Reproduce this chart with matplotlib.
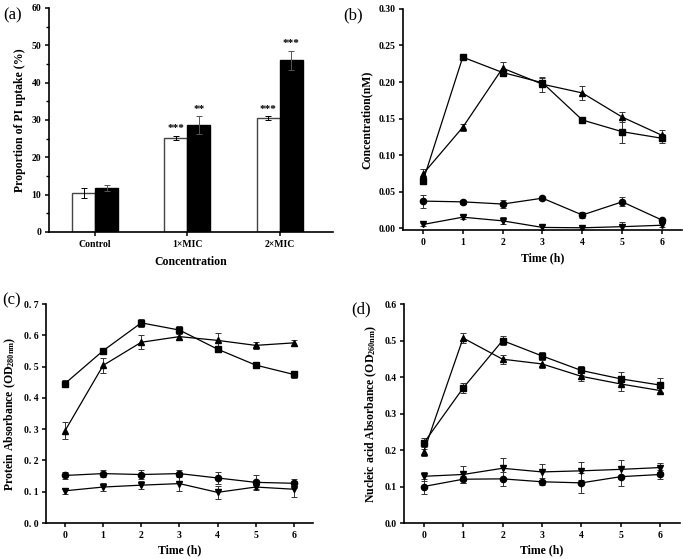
import matplotlib
matplotlib.use("Agg")
import matplotlib.pyplot as plt
import numpy as np

plt.rcParams['font.family'] = ['Liberation Serif', 'DejaVu Serif']
plt.rcParams['font.weight'] = 'bold'
plt.rcParams['axes.labelweight'] = 'bold'
plt.rcParams['mathtext.fontset'] = 'custom'
plt.rcParams['mathtext.rm'] = 'Liberation Serif:bold'
plt.rcParams['mathtext.bf'] = 'Liberation Serif:bold'
plt.rcParams['mathtext.default'] = 'bf'

# (a) PI uptake
categorias = ['Control', '1×MIC', '2×MIC']
biale = [10.4, 25.2, 30.5]
biale_err = [1.3, 0.6, 0.6]
czarne = [11.8, 28.6, 46.0]
czarne_err = [0.9, 2.4, 2.6]
gwiazdki_biale = ['', '***', '***']
gwiazdki_czarne = ['', '**', '***']

# time axis for b, c, d
czas = [0, 1, 2, 3, 4, 5, 6]

# (b) concentration
b_kw = [0.064, 0.234, 0.213, 0.199, 0.148, 0.132, 0.123]
b_kw_err = [0.004, 0.002, 0.004, 0.006, 0.003, 0.016, 0.006]
b_tr = [0.074, 0.138, 0.219, 0.197, 0.185, 0.152, 0.127]
b_tr_err = [0.007, 0.005, 0.009, 0.010, 0.009, 0.007, 0.007]
b_ko = [0.037, 0.036, 0.033, 0.041, 0.018, 0.036, 0.011]
b_ko_err = [0.009, 0.003, 0.005, 0.002, 0.004, 0.006, 0.002]
b_od = [0.005, 0.015, 0.010, 0.001, 0.0005, 0.002, 0.004]
b_od_err = [0.002, 0.003, 0.005, 0.003, 0.001, 0.006, 0.003]

# (c) protein absorbance
c_kw = [0.446, 0.551, 0.640, 0.617, 0.556, 0.505, 0.475]
c_kw_err = [0.010, 0.010, 0.012, 0.012, 0.010, 0.010, 0.010]
c_tr = [0.295, 0.504, 0.578, 0.596, 0.584, 0.568, 0.576]
c_tr_err = [0.027, 0.025, 0.022, 0.012, 0.022, 0.010, 0.010]
c_ko = [0.152, 0.158, 0.155, 0.158, 0.144, 0.130, 0.127]
c_ko_err = [0.010, 0.012, 0.014, 0.012, 0.020, 0.022, 0.015]
c_od = [0.103, 0.115, 0.121, 0.126, 0.098, 0.115, 0.108]
c_od_err = [0.010, 0.012, 0.012, 0.025, 0.020, 0.010, 0.025]

# (d) nucleic acid absorbance
d_kw = [0.219, 0.370, 0.500, 0.458, 0.418, 0.395, 0.378]
d_kw_err = [0.015, 0.015, 0.012, 0.012, 0.013, 0.018, 0.020]
d_tr = [0.195, 0.507, 0.449, 0.436, 0.402, 0.381, 0.363]
d_tr_err = [0.012, 0.013, 0.012, 0.012, 0.014, 0.018, 0.008]
d_od = [0.128, 0.133, 0.150, 0.140, 0.143, 0.147, 0.152]
d_od_err = [0.012, 0.022, 0.027, 0.022, 0.024, 0.025, 0.012]
d_ko = [0.100, 0.120, 0.121, 0.113, 0.110, 0.127, 0.133]
d_ko_err = [0.020, 0.010, 0.020, 0.010, 0.027, 0.025, 0.012]


def styl(ax):
    ax.spines['top'].set_visible(False)
    ax.spines['right'].set_visible(False)
    for s in ['left', 'bottom']:
        ax.spines[s].set_linewidth(1.2)
    ax.tick_params(direction='out', width=1.1, length=3, labelsize=7, pad=2.5)


def seria(ax, y, err, marker):
    ax.errorbar(czas, y, yerr=err, color='black', marker=marker, markersize=4.5,
                linewidth=0.9, elinewidth=0.7, capsize=2, capthick=0.7, ecolor='#333333')


fig = plt.figure(figsize=(6.83, 5.59), dpi=100)

# ---- (a)
ax = fig.add_axes([0.0717, 0.585, 0.416, 0.4007])
x = np.arange(len(categorias))
w = 0.25
ax.bar(x - w/2, biale, w, yerr=biale_err, color='white', edgecolor='#444444', linewidth=1.0,
       error_kw=dict(elinewidth=0.7, capsize=2, capthick=0.7))
ax.bar(x + w/2, czarne, w, yerr=czarne_err, color='black', edgecolor='black', linewidth=1.0,
       error_kw=dict(elinewidth=0.7, capsize=2, capthick=0.7, ecolor='#555555'))
for i in range(len(categorias)):
    if gwiazdki_biale[i]:
        ax.text(x[i] - w/2, biale[i] + biale_err[i] + 0.6, gwiazdki_biale[i], ha='center', va='bottom', fontsize=8)
    if gwiazdki_czarne[i]:
        ax.text(x[i] + w/2, czarne[i] + czarne_err[i] + 0.6, gwiazdki_czarne[i], ha='center', va='bottom', fontsize=8)
styl(ax)
ax.set_xlim(-0.5, 2.58)
ax.set_ylim(0, 60)
ax.set_yticks(range(0, 61, 10))
ax.set_yticks(range(5, 60, 10), minor=True)
ax.tick_params(which='minor', direction='out', width=1.0, length=2)
ax.set_xticks(x)
ax.set_xticklabels(categorias, fontsize=7)
ax.set_xlabel('Concentration', fontsize=8.5, labelpad=5)
ax.set_ylabel('Proportion of PI uptake (%)', fontsize=8.5, labelpad=4)
fig.text(0.005, 0.965, '(a)', fontsize=12, weight='normal')

# ---- (b)
ax = fig.add_axes([0.590, 0.5886, 0.4085, 0.3954])
seria(ax, b_kw, b_kw_err, 's')
seria(ax, b_tr, b_tr_err, '^')
seria(ax, b_ko, b_ko_err, 'o')
seria(ax, b_od, b_od_err, 'v')
styl(ax)
ax.set_xlim(-0.5, 6.5)
ax.set_ylim(-0.0025, 0.30)
ax.set_yticks([0.00, 0.05, 0.10, 0.15, 0.20, 0.25, 0.30])
ax.set_yticklabels(['0.00', '0.05', '0.10', '0.15', '0.20', '0.25', '0.30'])
ax.set_xticks(czas)
ax.set_xlabel('Time (h)', fontsize=8.5, labelpad=4)
ax.set_ylabel('Concentration(nM)', fontsize=8.5, labelpad=4)
fig.text(0.502, 0.965, '(b)', fontsize=12, weight='normal')

# ---- (c)
ax = fig.add_axes([0.0673, 0.0644, 0.3907, 0.3916])
seria(ax, c_kw, c_kw_err, 's')
seria(ax, c_tr, c_tr_err, '^')
seria(ax, c_ko, c_ko_err, 'o')
seria(ax, c_od, c_od_err, 'v')
styl(ax)
ax.set_xlim(-0.5, 6.5)
ax.set_ylim(0, 0.7)
ax.set_yticks(np.arange(0, 0.71, 0.1))
ax.set_yticklabels(['0. 0', '0. 1', '0. 2', '0. 3', '0. 4', '0. 5', '0. 6', '0. 7'])
ax.set_xticks(czas)
ax.set_xlabel('Time (h)', fontsize=8.5, labelpad=3)
ax.set_ylabel(r'Protein Absorbance (OD$_{280nm}$)', fontsize=8.5, labelpad=4)
fig.text(0.003, 0.455, '(c)', fontsize=12, weight='normal')

# ---- (d)
ax = fig.add_axes([0.5915, 0.0644, 0.4041, 0.3916])
seria(ax, d_kw, d_kw_err, 's')
seria(ax, d_tr, d_tr_err, '^')
seria(ax, d_od, d_od_err, 'v')
seria(ax, d_ko, d_ko_err, 'o')
styl(ax)
ax.set_xlim(-0.5, 6.5)
ax.set_ylim(0, 0.6)
ax.set_yticks(np.arange(0, 0.61, 0.1))
ax.set_yticklabels(['0.0', '0.1', '0.2', '0.3', '0.4', '0.5', '0.6'])
ax.set_xticks(czas)
ax.set_xlabel('Time (h)', fontsize=8.5, labelpad=3)
ax.set_ylabel(r'Nucleic acid Absorbance (OD$_{260nm}$)', fontsize=8.5, labelpad=4)
fig.text(0.515, 0.44, '(d)', fontsize=12, weight='normal')

fig.savefig('out.png', dpi=100)
